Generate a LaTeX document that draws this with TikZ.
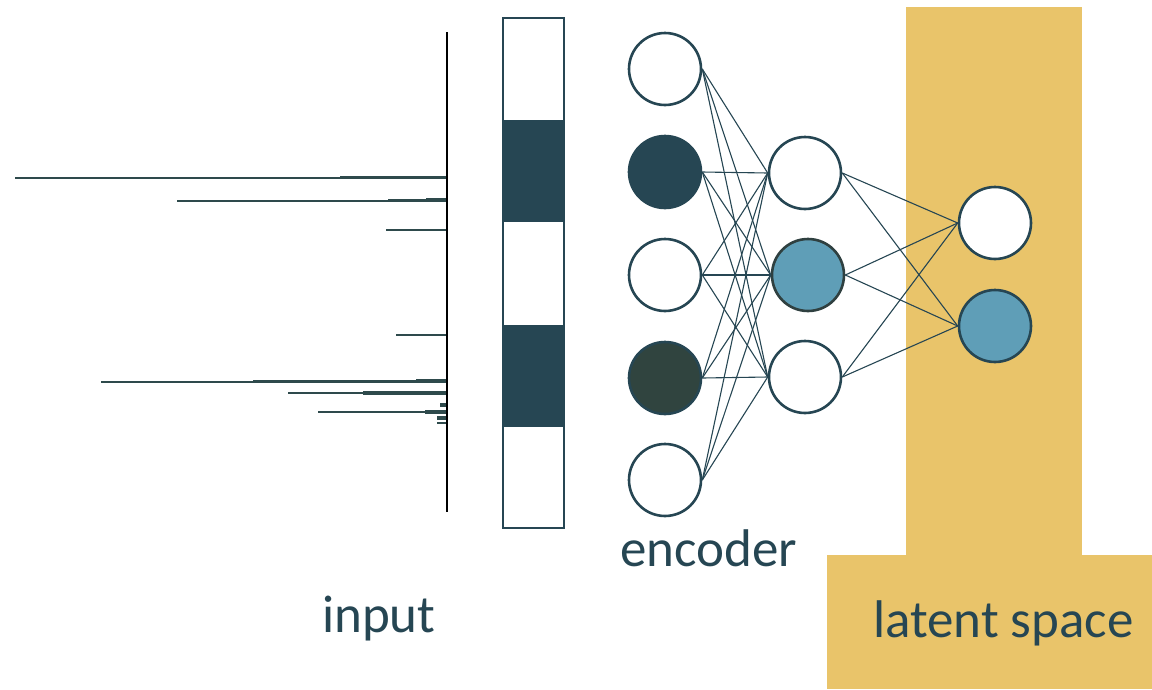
\documentclass[tikz,border=0pt]{standalone}
\usepackage{fontspec}
\setmainfont{Carlito}
\definecolor{ink}{HTML}{264653}
\definecolor{peak}{HTML}{2E4A4C}
\definecolor{olive}{HTML}{30443F}
\definecolor{sky}{HTML}{5F9EB7}
\definecolor{gold}{HTML}{E9C46A}
\definecolor{rim}{HTML}{2F4040}
\tikzset{
  neuron/.style={circle, draw=ink, line width=2.6pt, minimum size=72pt, inner sep=0pt, fill=white},
  link/.style={draw=ink, line width=1.1pt},
  spec/.style={draw=peak, line width=2.6pt},
  specthick/.style={draw=peak, line width=3.6pt},
  label/.style={text=ink, anchor=base west, inner sep=0pt, font=\fontsize{53}{60}\selectfont}
}
\begin{document}
\begin{tikzpicture}[x=1pt,y=-1pt]
\useasboundingbox (0,0) rectangle (1152,689);

% latent space backdrop
\fill[gold] (906,7) rectangle (1082,556);
\fill[gold] (827,555) rectangle (1152,689);

% spectrum axis and peaks
\draw[black, line width=2pt] (447,32) -- (447,512);
\foreach \y/\a in {178/15, 201/177, 230/386, 335/396, 382/101, 393/288, 412/318, 423/437}{
  \draw[spec] (\a,\y) -- (446,\y);
}
\foreach \y/\b in {177.5/340, 200.5/388, 381.5/253, 393/363, 412/425}{
  \draw[specthick] (\b,\y) -- (446,\y);
}
\draw[specthick] (426,200) -- (446,200);
\draw[specthick] (416,381) -- (446,381);
\draw[specthick] (432,393) -- (446,393);
\draw[specthick] (440,405) -- (446,405);
\draw[specthick] (437,418) -- (446,418);

% binned input vector
\fill[ink] (503,120) rectangle (564,222);
\fill[ink] (503,325) rectangle (564,427);
\draw[ink, line width=2pt] (503,18) rectangle (564,528);

% network nodes
\node[neuron] (i1) at (665,69) {};
\node[neuron, fill=ink] (i2) at (665,172) {};
\node[neuron] (i3) at (665,275) {};
\node[neuron, fill=olive] (i4) at (665,378) {};
\node[neuron] (i5) at (665,480) {};

\node[neuron] (h1) at (805,173) {};
\node[neuron, fill=sky, draw=rim] (h2) at (808,275) {};
\node[neuron] (h3) at (805,377) {};

\node[neuron] (l1) at (995,223) {};
\node[neuron, fill=sky] (l2) at (995,326) {};

% connections
\foreach \s in {i1,i2,i3,i4,i5}
  \foreach \t in {h1,h2,h3}
    \draw[link] (\s.east) -- (\t.west);
\foreach \s in {h1,h2,h3}
  \foreach \t in {l1,l2}
    \draw[link] (\s.east) -- (\t.west);

% labels
\node[label] (enc) at (620,566) {encoder};
\node[label] (inp) at (322,632) {input};
\node[label] (lat) at (873,637) {latent space};
\end{tikzpicture}
\end{document}
